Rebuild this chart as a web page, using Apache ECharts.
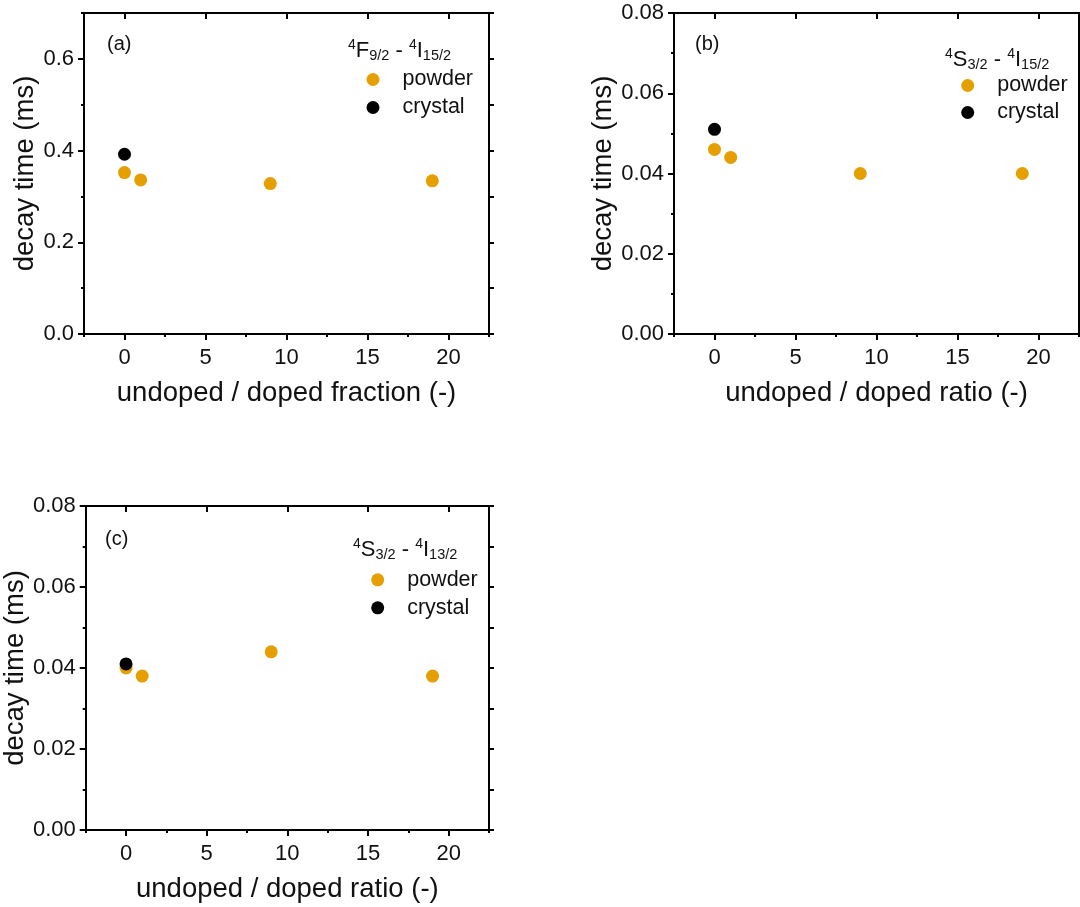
<!DOCTYPE html>
<html>
<head>
<meta charset="utf-8">
<script src="https://cdn.jsdelivr.net/npm/echarts@6/dist/echarts.min.js"></script>
<style>
html,body{margin:0;padding:0;background:#fff;}
#chart{width:1080px;height:907px;}
</style>
</head>
<body>
<div id="chart"></div>
<script>
// ---- data ----
const xValues = [0, 1, 9, 19];
const powderA = [0.352, 0.336, 0.328, 0.334];
const crystalA = [0.392];
const powderB = [0.046, 0.044, 0.040, 0.040];
const crystalB = [0.051];
const powderC = [0.040, 0.038, 0.044, 0.038];
const crystalC = [0.041];
const crystalX = [0];

const xMajorTicks = [0, 5, 10, 15, 20];
const yMajorTicksA = [0, 0.2, 0.4, 0.6];
const yMajorTicksBC = [0, 0.02, 0.04, 0.06, 0.08];

const panelLabels = ['(a)', '(b)', '(c)'];
const xNames = ['undoped / doped fraction (-)', 'undoped / doped ratio (-)', 'undoped / doped ratio (-)'];
const yName = 'decay time (ms)';
const seriesNames = ['powder', 'crystal'];
const legendTitles = [
  '{sup|4}{m|F}{sub|9/2}{m| - }{sup|4}{m|I}{sub|15/2}',
  '{sup|4}{m|S}{sub|3/2}{m| - }{sup|4}{m|I}{sub|15/2}',
  '{sup|4}{m|S}{sub|3/2}{m| - }{sup|4}{m|I}{sub|13/2}'
];

// ---- layout / style ----
const FONT = 'Liberation Sans, Arial, sans-serif';
const ORANGE = '#E69F00';
const BLACK = '#000000';
const TXT = '#111111';
const grids = [
  {left: 84, top: 13, width: 405, height: 321},
  {left: 674, top: 13, width: 405, height: 321},
  {left: 84, top: 506, width: 405, height: 324}
];
const yCfg = [
  {max: 0.7, minor: 0.1, majors: yMajorTicksA, dec: 1, gap: 40},
  {max: 0.08, minor: 0.01, majors: yMajorTicksBC, dec: 2, gap: 53},
  {max: 0.08, minor: 0.01, majors: yMajorTicksBC, dec: 2, gap: 54}
];
const powderData = [powderA, powderB, powderC];
const crystalData = [crystalA, crystalB, crystalC];

const xAxes = [], yAxes = [], series = [], titles = [], legends = [];
const lineStyle = {color: BLACK, width: 2};

grids.forEach((g, i) => {
  const yc = yCfg[i];
  const xMain = xAxes.length;
  xAxes.push({
    type: 'value', gridIndex: i, position: 'bottom', min: -2.5, max: 22.5, interval: 2.5,
    axisLine: {show: true, onZero: false, lineStyle},
    axisTick: {show: true, length: 3, lineStyle},
    splitLine: {show: false},
    axisLabel: {customValues: xMajorTicks, fontSize: 22, color: TXT, fontFamily: FONT, margin: 13},
    name: xNames[i], nameLocation: 'middle', nameGap: 45,
    nameTextStyle: {fontSize: 27.5, color: TXT, fontFamily: FONT}
  });
  xAxes.push({
    type: 'value', gridIndex: i, position: 'bottom', min: -2.5, max: 22.5,
    axisLine: {show: false, onZero: false},
    axisTick: {show: true, length: 6, lineStyle, customValues: xMajorTicks},
    axisLabel: {show: false}, splitLine: {show: false}
  });
  xAxes.push({
    type: 'value', gridIndex: i, position: 'top', min: -2.5, max: 22.5,
    axisLine: {show: true, onZero: false, lineStyle},
    axisTick: {show: true, inside: true, length: 6, lineStyle, customValues: xMajorTicks},
    axisLabel: {show: false}, splitLine: {show: false}
  });
  const yMain = yAxes.length;
  yAxes.push({
    type: 'value', gridIndex: i, position: 'left', min: 0, max: yc.max, interval: yc.minor,
    axisLine: {show: true, onZero: false, lineStyle},
    axisTick: {show: true, length: 3, lineStyle},
    splitLine: {show: false},
    axisLabel: {customValues: yc.majors, fontSize: 22, color: TXT, fontFamily: FONT, margin: 10,
      formatter: v => v.toFixed(yc.dec)},
    name: yName, nameLocation: 'middle', nameGap: yc.gap, nameRotate: 90,
    nameTextStyle: {fontSize: 27.5, color: TXT, fontFamily: FONT}
  });
  yAxes.push({
    type: 'value', gridIndex: i, position: 'left', min: 0, max: yc.max,
    axisLine: {show: false, onZero: false},
    axisTick: {show: true, length: 6, lineStyle, customValues: yc.majors},
    axisLabel: {show: false}, splitLine: {show: false}
  });
  yAxes.push({
    type: 'value', gridIndex: i, position: 'right', min: 0, max: yc.max, interval: yc.minor,
    axisLine: {show: true, onZero: false, lineStyle},
    axisTick: {show: true, length: 5, lineStyle},
    axisLabel: {show: false}, splitLine: {show: false}
  });

  series.push({
    name: seriesNames[0], type: 'scatter', xAxisIndex: xMain, yAxisIndex: yMain,
    symbol: 'circle', symbolSize: 13, itemStyle: {color: ORANGE, opacity: 1},
    data: xValues.map((x, k) => [x, powderData[i][k]]), z: 3
  });
  series.push({
    name: seriesNames[1], type: 'scatter', xAxisIndex: xMain, yAxisIndex: yMain,
    symbol: 'circle', symbolSize: 13, itemStyle: {color: BLACK, opacity: 1},
    data: crystalX.map((x, k) => [x, crystalData[i][k]]), z: 4
  });
});

// panel labels
const panelPos = [[107, 34], [695, 34], [105, 529]];
panelLabels.forEach((t, i) => {
  titles.push({text: t, left: panelPos[i][0], top: panelPos[i][1], padding: 0,
    textStyle: {fontSize: 20, fontWeight: 'normal', color: TXT, fontFamily: FONT}});
});
// legend headers
const headPos = [[348, 38], [945, 47], [353, 537]];
const rich = {
  m: {fontSize: 22, lineHeight: 25, color: TXT, fontFamily: FONT, verticalAlign: 'middle'},
  sup: {fontSize: 14, lineHeight: 14, color: TXT, fontFamily: FONT, verticalAlign: 'top'},
  sub: {fontSize: 14.5, lineHeight: 14, color: TXT, fontFamily: FONT, verticalAlign: 'bottom'}
};
legendTitles.forEach((t, i) => {
  titles.push({text: t, left: headPos[i][0], top: headPos[i][1], padding: 0,
    textStyle: {rich, fontWeight: 'normal'}});
});
// legends: [marker centre x, first item top, gap]
const legPos = [[373, 68.5, 6], [967.7, 74.5, 5], [377.7, 568.8, 6]];
legPos.forEach((p, i) => {
  legends.push({
    data: seriesNames, orient: 'vertical', left: p[0] - 6.5, top: p[1], padding: 0,
    itemGap: p[2], itemWidth: 13, itemHeight: 13, icon: 'circle',
    selectedMode: false,
    textStyle: {fontSize: 21.5, lineHeight: 21, color: TXT, fontFamily: FONT, padding: [0, 0, 0, 18]}
  });
});

const chart = echarts.init(document.getElementById('chart'), null, {renderer: 'canvas'});
chart.setOption({
  animation: false,
  backgroundColor: '#ffffff',
  grid: grids.map(g => Object.assign({containLabel: false}, g)),
  xAxis: xAxes,
  yAxis: yAxes,
  title: titles,
  legend: legends,
  series: series
});
</script>
</body>
</html>
